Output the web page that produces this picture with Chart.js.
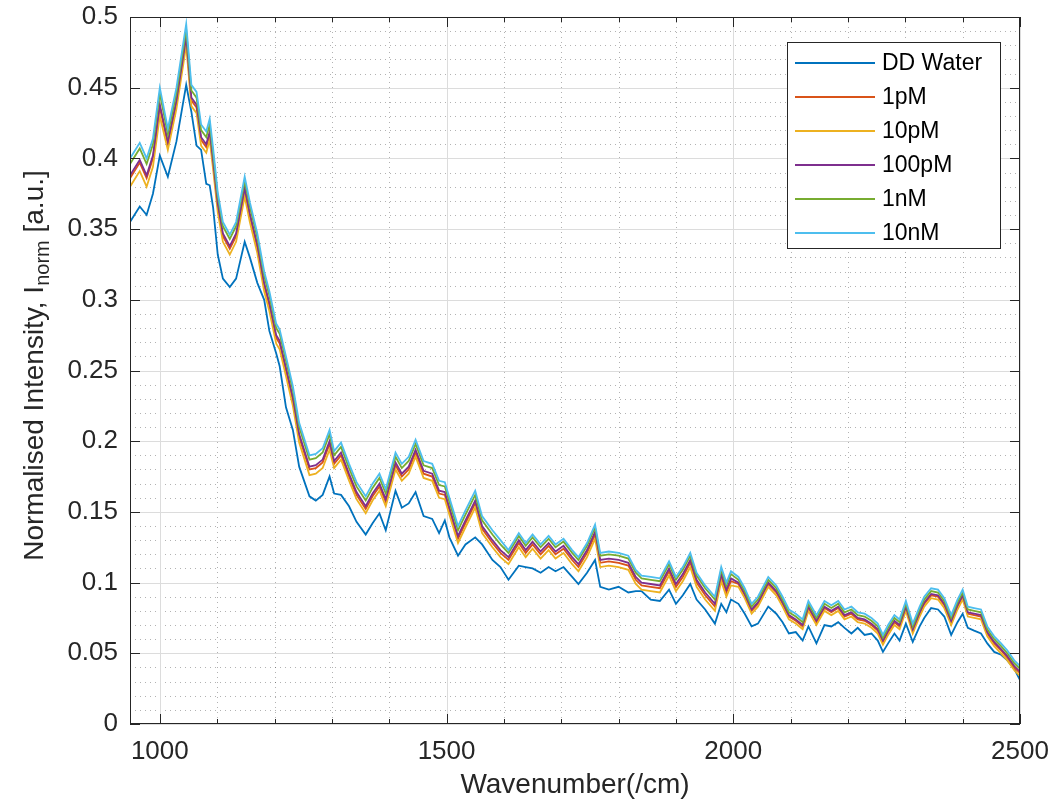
<!DOCTYPE html>
<html>
<head>
<meta charset="utf-8">
<title>Normalised spectra</title>
<script src="https://cdn.jsdelivr.net/npm/chart.js@4.4.1/dist/chart.umd.min.js"></script>
<style>
  html, body { margin: 0; padding: 0; background: #fff; }
  #wrap { width: 1055px; height: 810px; }
</style>
</head>
<body>
<div id="wrap"><canvas id="spectra" width="1055" height="810"></canvas></div>
<script>
// wavenumber axis (1/cm), shared by every trace
const wavenumber = [
  948, 965, 977, 988, 1000,
  1014, 1029, 1046, 1055, 1064, 1072, 1081, 1087, 1093,
  1101, 1110, 1122, 1133, 1148, 1157, 1170, 1182, 1191, 1203, 1209, 1220, 1232, 1243, 1261, 1272, 1284, 1296,
  1304, 1316, 1330, 1343, 1359, 1371, 1383, 1394, 1411, 1422, 1434, 1446, 1460, 1475, 1487, 1497, 1505, 1520, 1533, 1550, 1562, 1580, 1594,
  1608, 1626, 1638, 1650, 1664, 1678, 1690, 1704, 1719, 1730, 1745, 1759, 1768, 1783, 1800, 1817, 1830, 1840, 1856, 1872, 1888, 1900, 1912, 1925, 1936, 1951, 1968, 1979, 1988, 1996,
  2009, 2020, 2032, 2043, 2061, 2075, 2086, 2097, 2109, 2121, 2131, 2145, 2159, 2171, 2183, 2194, 2206, 2217, 2229, 2241, 2252, 2261, 2270, 2281, 2290, 2301, 2313, 2325, 2333, 2345, 2357, 2368, 2380, 2391, 2400, 2409, 2420, 2432, 2443, 2455, 2467, 2478, 2490, 2500
];

const ddWater = [
  0.355, 0.366, 0.360, 0.375, 0.402,
  0.387, 0.412, 0.452, 0.433, 0.409, 0.406, 0.382, 0.381, 0.365,
  0.332, 0.315, 0.309, 0.315, 0.341, 0.330, 0.312, 0.300, 0.278, 0.262, 0.253, 0.224, 0.208, 0.182, 0.161, 0.158, 0.162, 0.175,
  0.163, 0.162, 0.154, 0.143, 0.134, 0.142, 0.149, 0.137, 0.165, 0.153, 0.156, 0.164, 0.147, 0.145, 0.135, 0.144, 0.132, 0.119, 0.127, 0.132, 0.127, 0.116, 0.111,
  0.102, 0.112, 0.111, 0.110, 0.107, 0.111, 0.108, 0.111, 0.104, 0.099, 0.107, 0.116, 0.097, 0.095, 0.097, 0.093, 0.094, 0.094, 0.088, 0.087, 0.095, 0.085, 0.091, 0.099, 0.088, 0.081, 0.071, 0.085, 0.079, 0.088,
  0.085, 0.078, 0.069, 0.071, 0.083, 0.078, 0.072, 0.064, 0.065, 0.059, 0.069, 0.057, 0.070, 0.069, 0.072, 0.068, 0.064, 0.068, 0.063, 0.064, 0.059, 0.051, 0.057, 0.064, 0.059, 0.071, 0.058, 0.069, 0.075, 0.082, 0.081, 0.076, 0.063, 0.072, 0.078, 0.068, 0.066, 0.064, 0.057, 0.051, 0.049, 0.045, 0.039, 0.031
];

const conc1pM = [
  0.386, 0.397, 0.386, 0.400, 0.436,
  0.410, 0.439, 0.484, 0.441, 0.436, 0.413, 0.408, 0.417, 0.396,
  0.366, 0.345, 0.336, 0.345, 0.377, 0.359, 0.337, 0.310, 0.296, 0.273, 0.269, 0.250, 0.229, 0.203, 0.180, 0.181, 0.185, 0.198,
  0.184, 0.190, 0.175, 0.162, 0.152, 0.161, 0.168, 0.157, 0.183, 0.175, 0.180, 0.192, 0.177, 0.175, 0.163, 0.162, 0.151, 0.131, 0.142, 0.156, 0.138, 0.128, 0.121,
  0.116, 0.128, 0.121, 0.127, 0.120, 0.126, 0.120, 0.124, 0.116, 0.111, 0.121, 0.134, 0.114, 0.115, 0.114, 0.112, 0.102, 0.098, 0.097, 0.096, 0.108, 0.097, 0.104, 0.114, 0.100, 0.091, 0.083, 0.104, 0.093, 0.101,
  0.099, 0.091, 0.080, 0.085, 0.099, 0.093, 0.085, 0.076, 0.073, 0.069, 0.082, 0.072, 0.082, 0.079, 0.082, 0.076, 0.078, 0.074, 0.073, 0.070, 0.066, 0.058, 0.065, 0.072, 0.069, 0.082, 0.066, 0.078, 0.085, 0.091, 0.090, 0.084, 0.072, 0.083, 0.090, 0.078, 0.077, 0.076, 0.064, 0.057, 0.052, 0.047, 0.040, 0.036
];

const conc10pM = [
  0.380, 0.391, 0.380, 0.394, 0.430,
  0.406, 0.435, 0.480, 0.437, 0.432, 0.409, 0.404, 0.413, 0.392,
  0.362, 0.341, 0.332, 0.341, 0.373, 0.355, 0.333, 0.306, 0.292, 0.269, 0.265, 0.246, 0.225, 0.199, 0.176, 0.177, 0.181, 0.194,
  0.181, 0.187, 0.172, 0.159, 0.149, 0.158, 0.165, 0.154, 0.180, 0.172, 0.177, 0.189, 0.174, 0.172, 0.160, 0.159, 0.148, 0.128, 0.139, 0.153, 0.135, 0.125, 0.118,
  0.113, 0.125, 0.118, 0.124, 0.117, 0.123, 0.117, 0.121, 0.113, 0.108, 0.118, 0.131, 0.111, 0.112, 0.111, 0.109, 0.099, 0.095, 0.094, 0.093, 0.105, 0.094, 0.101, 0.111, 0.097, 0.088, 0.080, 0.101, 0.090, 0.098,
  0.097, 0.089, 0.078, 0.083, 0.097, 0.091, 0.083, 0.074, 0.071, 0.067, 0.080, 0.070, 0.080, 0.077, 0.080, 0.074, 0.076, 0.072, 0.071, 0.068, 0.064, 0.056, 0.063, 0.070, 0.067, 0.080, 0.064, 0.076, 0.083, 0.089, 0.088, 0.082, 0.070, 0.081, 0.088, 0.076, 0.075, 0.074, 0.062, 0.055, 0.050, 0.045, 0.038, 0.034
];

const conc100pM = [
  0.388, 0.399, 0.388, 0.402, 0.438,
  0.412, 0.441, 0.486, 0.443, 0.438, 0.415, 0.410, 0.419, 0.398,
  0.368, 0.347, 0.338, 0.347, 0.379, 0.361, 0.339, 0.312, 0.298, 0.275, 0.271, 0.252, 0.231, 0.205, 0.182, 0.183, 0.187, 0.200,
  0.186, 0.192, 0.177, 0.164, 0.154, 0.163, 0.170, 0.159, 0.185, 0.177, 0.182, 0.194, 0.179, 0.177, 0.165, 0.164, 0.153, 0.133, 0.144, 0.158, 0.140, 0.130, 0.123,
  0.118, 0.130, 0.123, 0.129, 0.122, 0.128, 0.122, 0.126, 0.118, 0.113, 0.123, 0.136, 0.116, 0.117, 0.116, 0.114, 0.104, 0.100, 0.099, 0.098, 0.110, 0.099, 0.106, 0.116, 0.102, 0.093, 0.085, 0.106, 0.095, 0.103,
  0.100, 0.092, 0.081, 0.086, 0.100, 0.094, 0.086, 0.077, 0.074, 0.070, 0.083, 0.073, 0.083, 0.080, 0.083, 0.077, 0.079, 0.075, 0.074, 0.071, 0.067, 0.059, 0.066, 0.073, 0.070, 0.083, 0.067, 0.079, 0.086, 0.092, 0.091, 0.085, 0.073, 0.084, 0.091, 0.079, 0.078, 0.077, 0.065, 0.058, 0.053, 0.048, 0.041, 0.037
];

const conc1nM = [
  0.396, 0.407, 0.396, 0.410, 0.446,
  0.417, 0.446, 0.491, 0.448, 0.443, 0.420, 0.415, 0.424, 0.403,
  0.373, 0.352, 0.343, 0.352, 0.384, 0.366, 0.344, 0.317, 0.303, 0.280, 0.276, 0.257, 0.236, 0.210, 0.187, 0.188, 0.192, 0.205,
  0.190, 0.196, 0.181, 0.168, 0.158, 0.167, 0.174, 0.163, 0.189, 0.181, 0.186, 0.198, 0.183, 0.181, 0.169, 0.168, 0.157, 0.137, 0.148, 0.162, 0.144, 0.134, 0.127,
  0.121, 0.133, 0.126, 0.132, 0.125, 0.131, 0.125, 0.129, 0.121, 0.116, 0.126, 0.139, 0.119, 0.120, 0.119, 0.117, 0.107, 0.103, 0.102, 0.101, 0.113, 0.102, 0.109, 0.119, 0.105, 0.096, 0.088, 0.109, 0.098, 0.106,
  0.102, 0.094, 0.083, 0.088, 0.102, 0.096, 0.088, 0.079, 0.076, 0.072, 0.085, 0.075, 0.085, 0.082, 0.085, 0.079, 0.081, 0.077, 0.076, 0.073, 0.069, 0.061, 0.068, 0.075, 0.072, 0.085, 0.069, 0.081, 0.088, 0.094, 0.093, 0.087, 0.075, 0.086, 0.093, 0.081, 0.080, 0.079, 0.067, 0.060, 0.055, 0.050, 0.043, 0.039
];

const conc10nM = [
  0.400, 0.411, 0.400, 0.414, 0.450,
  0.421, 0.450, 0.495, 0.452, 0.447, 0.424, 0.419, 0.428, 0.407,
  0.376, 0.355, 0.346, 0.355, 0.387, 0.369, 0.347, 0.320, 0.306, 0.283, 0.279, 0.260, 0.239, 0.213, 0.190, 0.191, 0.195, 0.208,
  0.193, 0.199, 0.184, 0.171, 0.161, 0.170, 0.177, 0.166, 0.192, 0.184, 0.189, 0.201, 0.186, 0.184, 0.172, 0.171, 0.160, 0.140, 0.151, 0.165, 0.147, 0.137, 0.130,
  0.123, 0.135, 0.128, 0.134, 0.127, 0.133, 0.127, 0.131, 0.123, 0.118, 0.128, 0.141, 0.121, 0.122, 0.121, 0.119, 0.109, 0.105, 0.104, 0.103, 0.115, 0.104, 0.111, 0.121, 0.107, 0.098, 0.090, 0.111, 0.100, 0.108,
  0.104, 0.096, 0.085, 0.090, 0.104, 0.098, 0.090, 0.081, 0.078, 0.074, 0.087, 0.077, 0.087, 0.084, 0.087, 0.081, 0.083, 0.079, 0.078, 0.075, 0.071, 0.063, 0.070, 0.077, 0.074, 0.087, 0.071, 0.083, 0.090, 0.096, 0.095, 0.089, 0.077, 0.088, 0.095, 0.083, 0.082, 0.081, 0.069, 0.062, 0.057, 0.052, 0.045, 0.041
];

const seriesNames = ["DD Water", "1pM", "10pM", "100pM", "1nM", "10nM"];
const seriesValues = [ddWater, conc1pM, conc10pM, conc100pM, conc1nM, conc10nM];
const seriesColors = ["#0072BD", "#D95319", "#EDB120", "#7E2F8E", "#77AC30", "#4DBEEE"];

const xTicks = [1000, 1500, 2000, 2500];
const yTicks = [0, 0.05, 0.1, 0.15, 0.2, 0.25, 0.3, 0.35, 0.4, 0.45, 0.5];

const FONT = '"Liberation Sans", Arial, Helvetica, sans-serif';
const INK = "#262626";

// minor positions for the dotted grid
const xMinor = [];
for (let v = 1000; v <= 2500; v += 100) if (v % 500 !== 0) xMinor.push(v);
const yMinor = [];
for (let i = 1; i < 50; i++) if (i % 5 !== 0) yMinor.push(i / 100);


function hline(ctx, x1, x2, y) {
  ctx.beginPath(); ctx.moveTo(x1, y); ctx.lineTo(x2, y); ctx.stroke();
}
function vline(ctx, x, y1, y2) {
  ctx.beginPath(); ctx.moveTo(x, y1); ctx.lineTo(x, y2); ctx.stroke();
}

// keep tick labels from pushing the plot box inward
function noLabelPadding(s) {
  s.paddingLeft = 0;
  s.paddingRight = 0;
  s.paddingTop = 0;
  s.paddingBottom = 0;
}


// grid behind the traces, box + ticks + legend on top
const axesFrame = {
  id: "axesFrame",

  beforeDatasetsDraw(chart) {
    const { ctx, chartArea: a, scales: { x, y } } = chart;
    ctx.save();
    ctx.lineWidth = 1;

    ctx.strokeStyle = "rgba(0,0,0,0.30)";
    ctx.setLineDash([1, 4]);
    xMinor.forEach(v => {
      const px = Math.round(x.getPixelForValue(v)) + 0.5;
      vline(ctx, px, a.top, a.bottom);
    });
    yMinor.forEach(v => {
      const py = Math.round(y.getPixelForValue(v)) + 0.5;
      hline(ctx, a.left, a.right, py);
    });

    ctx.setLineDash([]);
    ctx.strokeStyle = "#dcdcdc";
    xTicks.forEach(v => {
      const px = Math.round(x.getPixelForValue(v)) + 0.5;
      vline(ctx, px, a.top, a.bottom);
    });
    yTicks.forEach(v => {
      const py = Math.round(y.getPixelForValue(v)) + 0.5;
      hline(ctx, a.left, a.right, py);
    });
    ctx.restore();
  },

  afterDatasetsDraw(chart) {
    const { ctx, chartArea: a, scales: { x, y } } = chart;
    ctx.save();
    ctx.strokeStyle = INK;
    ctx.lineWidth = 1;

    // tick marks, pointing inward on all four sides
    xTicks.forEach(v => {
      const px = Math.round(x.getPixelForValue(v)) + 0.5;
      vline(ctx, px, a.bottom, a.bottom - 10);
      vline(ctx, px, a.top, a.top + 10);
    });
    xMinor.forEach(v => {
      const px = Math.round(x.getPixelForValue(v)) + 0.5;
      vline(ctx, px, a.bottom, a.bottom - 5);
      vline(ctx, px, a.top, a.top + 5);
    });
    yTicks.forEach(v => {
      const py = Math.round(y.getPixelForValue(v)) + 0.5;
      hline(ctx, a.left, a.left + 10, py);
      hline(ctx, a.right, a.right - 10, py);
    });

    ctx.strokeRect(a.left + 0.5, a.top + 0.5, a.width - 1, a.height - 1);

    // legend box
    const lx = 787, ly = 42, lw = 213, lh = 206;
    ctx.fillStyle = "#fff";
    ctx.fillRect(lx, ly, lw, lh);
    ctx.strokeRect(lx + 0.5, ly + 0.5, lw, lh);

    ctx.font = "23px " + FONT;
    ctx.textBaseline = "middle";
    ctx.textAlign = "left";
    chart.data.datasets.forEach((ds, i) => {
      const cy = ly + 21 + i * 34;
      ctx.strokeStyle = ds.borderColor;
      ctx.lineWidth = 2;
      hline(ctx, lx + 8, lx + 88, cy);
      ctx.fillStyle = "#000";
      ctx.fillText(ds.label, lx + 95, cy + 1);
    });
    ctx.restore();
  },

  afterDraw(chart) {
    // y axis title with a subscript
    const { ctx, chartArea: a } = chart;
    const main = "Normalised Intensity, I";
    const sub = "norm";
    const tail = " [a.u.]";
    ctx.save();
    ctx.fillStyle = INK;
    ctx.textBaseline = "alphabetic";
    ctx.textAlign = "left";
    ctx.font = "28px " + FONT;
    const wMain = ctx.measureText(main).width;
    const wTail = ctx.measureText(tail).width;
    ctx.font = "20px " + FONT;
    const wSub = ctx.measureText(sub).width;
    const total = wMain + wSub + wTail;

    ctx.translate(43, (a.top + a.bottom) / 2 - 5);
    ctx.rotate(-Math.PI / 2);
    let cx = -total / 2;
    ctx.font = "28px " + FONT;
    ctx.fillText(main, cx, 0);
    cx += wMain;
    ctx.font = "20px " + FONT;
    ctx.fillText(sub, cx, 6);
    cx += wSub;
    ctx.font = "28px " + FONT;
    ctx.fillText(tail, cx, 0);
    ctx.restore();
  }
};


const datasets = seriesNames.map((name, i) => ({
  label: name,
  data: wavenumber.map((w, k) => ({ x: w, y: seriesValues[i][k] })),
  borderColor: seriesColors[i],
  backgroundColor: seriesColors[i],
  borderWidth: 1.8,
  pointRadius: 0,
  tension: 0,
  fill: false,
  // later series sit on top
  order: seriesNames.length - i
}));


new Chart(document.getElementById("spectra"), {
  type: "line",
  data: { datasets },
  options: {
    responsive: false,
    animation: false,
    layout: { padding: { top: 17, right: 35, left: 0, bottom: 0 } },
    plugins: {
      legend: { display: false },
      tooltip: { enabled: false }
    },
    scales: {
      x: {
        type: "linear",
        min: 948,
        max: 2500,
        afterBuildTicks: s => { s.ticks = xTicks.map(v => ({ value: v })); },
        afterFit: s => { s.height = 86; noLabelPadding(s); },
        grid: { display: false, drawTicks: false },
        border: { display: false },
        ticks: {
          font: { family: FONT, size: 26 },
          color: INK,
          padding: 12,
          maxRotation: 0,
          autoSkip: false,
          callback: v => String(v)
        },
        title: {
          display: true,
          text: "Wavenumber(/cm)",
          font: { family: FONT, size: 28 },
          color: INK,
          padding: { top: 0, bottom: 8 }
        }
      },
      y: {
        min: 0,
        max: 0.5,
        afterBuildTicks: s => { s.ticks = yTicks.map(v => ({ value: v })); },
        afterFit: s => { s.width = 130; noLabelPadding(s); },
        grid: { display: false, drawTicks: false },
        border: { display: false },
        ticks: {
          font: { family: FONT, size: 26 },
          color: INK,
          padding: 12,
          callback: v => String(+v.toFixed(2))
        }
      }
    }
  },
  plugins: [axesFrame]
});
</script>
</body>
</html>
